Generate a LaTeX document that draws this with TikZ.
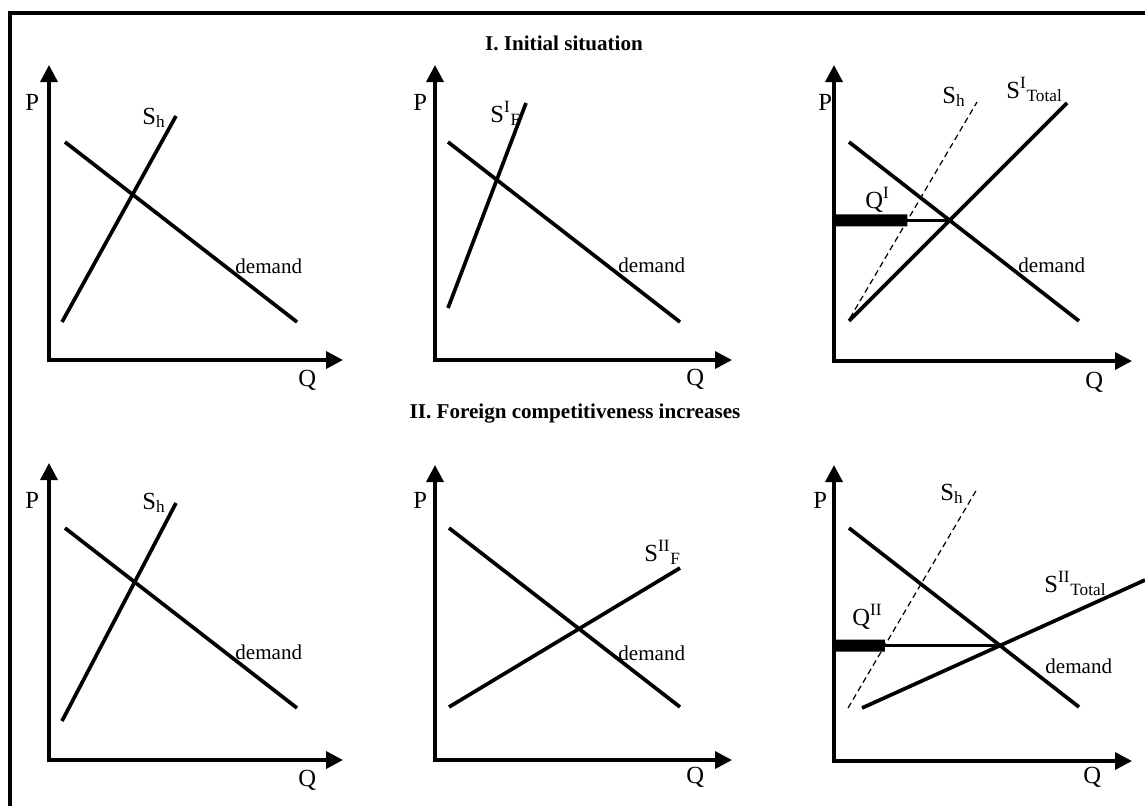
\documentclass[tikz,border=0pt]{standalone}
\usepackage{fontspec}
\setmainfont{Liberation Serif}
\usetikzlibrary{arrows.meta}

\tikzset{
  axis/.style={line width=2pt,{Triangle[length=0.34cm,width=0.34cm]}-{Triangle[length=0.34cm,width=0.34cm]}},
  curve/.style={line width=2.1pt},
  home/.style={line width=0.7pt,dash pattern=on 3.4pt off 2.2pt},
  level/.style={line width=1.5pt},
  share/.style={line width=0.24cm},
  lbl/.style={anchor=base west,inner sep=0pt,font=\fontsize{14}{16}\selectfont},
  word/.style={anchor=base west,inner sep=0pt,font=\fontsize{12}{14}\selectfont},
  heading/.style={anchor=base,inner sep=0pt,font=\fontsize{12}{14}\selectfont\bfseries}
}

\begin{document}
\begin{tikzpicture}[x=0.02cm,y=-0.02cm]
    \useasboundingbox (0,0) rectangle (1145,806);
    \draw[line width=1.8pt] (10,806) -- (10,13) -- (1145,13);

    \node[heading] (T1) at (564,50) {I. Initial situation};
    \node[heading] (T2) at (575,418) {II. Foreign competitiveness increases};

    % I. home market
    \coordinate (o1) at (49,360);
    \coordinate (y1) at (49,65);
    \coordinate (x1) at (343,360);
    \coordinate (sh1a) at (62,322);
    \coordinate (sh1b) at (176,116);
    \coordinate (d1a) at (65,142);
    \coordinate (d1b) at (297,322);
    \draw[axis] (y1) -- (o1) -- (x1);
    \draw[curve] (sh1a) -- (sh1b);
    \draw[curve] (d1a) -- (d1b);
    \node[lbl] (P1) at (25,110) {P};
    \node[lbl] (Q1) at (298,386) {Q};
    \node[lbl] (SH1) at (142,124) {S\textsubscript{h}};
    \node[word] (D1) at (235,273) {demand};

    % I. foreign supply
    \coordinate (o2) at (435,360);
    \coordinate (y2) at (435,65);
    \coordinate (x2) at (732,360);
    \coordinate (sf2a) at (448,308);
    \coordinate (sf2b) at (526,103);
    \coordinate (d2a) at (448,142);
    \coordinate (d2b) at (680,322);
    \draw[axis] (y2) -- (o2) -- (x2);
    \draw[curve] (sf2a) -- (sf2b);
    \draw[curve] (d2a) -- (d2b);
    \node[lbl] (P2) at (413,110) {P};
    \node[lbl] (Q2) at (686,385) {Q};
    \node[lbl] (SF2) at (490,122) {S\textsuperscript{I}\textsubscript{F}};
    \node[word] (D2) at (618,272) {demand};

    % I. total
    \coordinate (o3) at (834,361);
    \coordinate (y3) at (834,65);
    \coordinate (x3) at (1132,361);
    \coordinate (sh3a) at (850,318);
    \coordinate (sh3b) at (977,102);
    \coordinate (st3a) at (849,321);
    \coordinate (st3b) at (1067,103);
    \coordinate (d3a) at (849,142);
    \coordinate (d3b) at (1079,321);
    \coordinate (e3) at (intersection of st3a--st3b and d3a--d3b);
    \coordinate (p3) at (o3 |- e3);
    \coordinate (q3) at (intersection of p3--e3 and sh3a--sh3b);
    \draw[axis] (y3) -- (o3) -- (x3);
    \draw[home] (sh3a) -- (sh3b);
    \draw[curve] (st3a) -- (st3b);
    \draw[curve] (d3a) -- (d3b);
    \draw[level] (p3) -- (e3);
    \draw[share] (p3) -- (q3);
    \node[lbl] (P3) at (818,110) {P};
    \node[lbl] (Q3) at (1085,388) {Q};
    \node[lbl] (SH3) at (942,103) {S\textsubscript{h}};
    \node[lbl] (ST3) at (1006,98) {S\textsuperscript{I}\textsubscript{Total}};
    \node[lbl] (QI) at (865,208) {Q\textsuperscript{I}};
    \node[word] (D3) at (1018,272) {demand};

    % II. home market
    \coordinate (o4) at (49,760);
    \coordinate (y4) at (49,463);
    \coordinate (x4) at (343,760);
    \coordinate (sh4a) at (62,721);
    \coordinate (sh4b) at (176,503);
    \coordinate (d4a) at (65,528);
    \coordinate (d4b) at (297,708);
    \draw[axis] (y4) -- (o4) -- (x4);
    \draw[curve] (sh4a) -- (sh4b);
    \draw[curve] (d4a) -- (d4b);
    \node[lbl] (P4) at (25,508) {P};
    \node[lbl] (Q4) at (298,786) {Q};
    \node[lbl] (SH4) at (142,509) {S\textsubscript{h}};
    \node[word] (D4) at (235,659) {demand};

    % II. foreign supply
    \coordinate (o5) at (435,760);
    \coordinate (y5) at (435,465);
    \coordinate (x5) at (732,760);
    \coordinate (sf5a) at (449,707);
    \coordinate (sf5b) at (680,568);
    \coordinate (d5a) at (449,528);
    \coordinate (d5b) at (680,707);
    \draw[axis] (y5) -- (o5) -- (x5);
    \draw[curve] (sf5a) -- (sf5b);
    \draw[curve] (d5a) -- (d5b);
    \node[lbl] (P5) at (413,508) {P};
    \node[lbl] (Q5) at (686,783) {Q};
    \node[lbl] (SF5) at (644,561) {S\textsuperscript{II}\textsubscript{F}};
    \node[word] (D5) at (618,660) {demand};

    % II. total
    \coordinate (o6) at (834,761);
    \coordinate (y6) at (834,465);
    \coordinate (x6) at (1132,761);
    \coordinate (sh6a) at (848,708);
    \coordinate (sh6b) at (977,489);
    \coordinate (st6a) at (862,708);
    \coordinate (st6b) at (1145,580);
    \coordinate (d6a) at (849,528);
    \coordinate (d6b) at (1079,707);
    \coordinate (e6) at (intersection of st6a--st6b and d6a--d6b);
    \coordinate (p6) at (o6 |- e6);
    \coordinate (q6) at (intersection of p6--e6 and sh6a--sh6b);
    \draw[axis] (y6) -- (o6) -- (x6);
    \draw[home] (sh6a) -- (sh6b);
    \draw[curve] (st6a) -- (st6b);
    \draw[curve] (d6a) -- (d6b);
    \draw[level] (p6) -- (e6);
    \draw[share] (p6) -- (q6);
    \node[lbl] (P6) at (813,508) {P};
    \node[lbl] (Q6) at (1083,783) {Q};
    \node[lbl] (SH6) at (940,500) {S\textsubscript{h}};
    \node[lbl] (ST6) at (1044,592) {S\textsuperscript{II}\textsubscript{Total}};
    \node[lbl] (QII) at (852,625) {Q\textsuperscript{II}};
    \node[word] (D6) at (1045,673) {demand};
\end{tikzpicture}
\end{document}
